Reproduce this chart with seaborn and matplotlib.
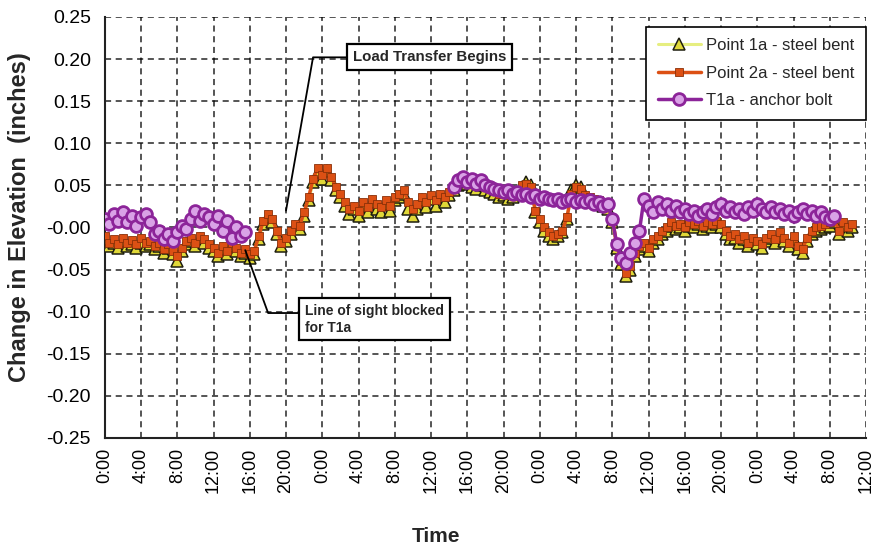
import numpy as np
import matplotlib
matplotlib.use("Agg")
import matplotlib.pyplot as plt
import seaborn as sns

# ---------------- data ----------------
tick_hours = list(range(0, 85, 4))
tick_labels = ["0:00", "4:00", "8:00", "12:00", "16:00", "20:00"] * 3 + ["0:00", "4:00", "8:00", "12:00"]

hours_pt = np.arange(0, 83, 0.5)          # 0 .. 82.5 h
point_1a = [
    -0.014, -0.022, -0.018, -0.024, -0.016, -0.022, -0.020, -0.024, -0.018, -0.022, -0.020,
    -0.026, -0.022, -0.030, -0.024, -0.032, -0.040, -0.028,
    -0.020, -0.016, -0.022, -0.014, -0.018, -0.024, -0.028,
    -0.034, -0.026, -0.032, -0.022,
    -0.028, -0.034, -0.030, -0.036, -0.032, -0.014,
    0.004, 0.012, 0.006, -0.008,
    -0.022, -0.016,
    -0.008, 0.000, -0.002, 0.014, 0.032, 0.054, 0.066,
    0.058, 0.067, 0.056, 0.044, 0.036, 0.026, 0.016,
    0.022, 0.014, 0.026, 0.018, 0.030, 0.022, 0.018, 0.028, 0.020, 0.032, 0.036,
    0.040, 0.022, 0.014, 0.022, 0.032, 0.024, 0.034, 0.026, 0.036, 0.030, 0.038,
    0.044, 0.050, 0.056, 0.052, 0.048, 0.046, 0.050, 0.044, 0.042, 0.040, 0.036,
    0.038, 0.034, 0.036, 0.040, 0.048,
    0.054, 0.050, 0.018, 0.006, -0.004, -0.010, -0.014, -0.010, -0.006, 0.010, 0.044,
    0.050, 0.048, 0.036,
    0.032, 0.030, 0.028, 0.026, 0.022, 0.006,
    -0.024, -0.044, -0.058, -0.050, -0.034, -0.026,
    -0.022, -0.028, -0.018, -0.014, -0.008, -0.004,
    0.002, -0.002, 0.000, -0.004, 0.002, 0.000, 0.004, -0.002, 0.002, 0.000, 0.004, 0.000,
    -0.008, -0.014, -0.012, -0.018, -0.014, -0.022, -0.016, -0.020, -0.024, -0.016, -0.012,
    -0.018, -0.010, -0.016, -0.022, -0.014,
    -0.026, -0.030, -0.016, -0.008, -0.004, -0.002, 0.000, 0.002,
    0.006, -0.008, 0.002, -0.004, 0.000,
]
point_2a = [
    -0.010, -0.018, -0.014, -0.020, -0.012, -0.018, -0.015, -0.020, -0.013, -0.018, -0.016,
    -0.022, -0.018, -0.026, -0.020, -0.028, -0.034, -0.024,
    -0.016, -0.012, -0.018, -0.010, -0.014, -0.020, -0.024,
    -0.030, -0.022, -0.028, -0.018,
    -0.024, -0.030, -0.026, -0.032, -0.028, -0.010,
    0.008, 0.016, 0.010, -0.004,
    -0.018, -0.012,
    -0.004, 0.004, 0.002, 0.018, 0.036, 0.058, 0.070,
    0.062, 0.071, 0.060, 0.048, 0.040, 0.030, 0.022,
    0.026, 0.020, 0.030, 0.024, 0.034, 0.028, 0.024, 0.032, 0.026, 0.036, 0.040,
    0.044, 0.030, 0.022, 0.028, 0.036, 0.030, 0.038, 0.032, 0.040, 0.036, 0.042,
    0.048, 0.054, 0.058, 0.056, 0.052, 0.050, 0.054, 0.048, 0.046, 0.044, 0.040,
    0.042, 0.038, 0.040, 0.044, 0.050,
    0.052, 0.048, 0.020, 0.010, 0.000, -0.006, -0.010, -0.008, -0.004, 0.012, 0.040,
    0.048, 0.046, 0.038,
    0.036, 0.034, 0.032, 0.030, 0.026, 0.010,
    -0.020, -0.040, -0.054, -0.046, -0.030, -0.022,
    -0.018, -0.024, -0.014, -0.010, -0.004, 0.000,
    0.006, 0.002, 0.004, 0.000, 0.006, 0.004, 0.008, 0.002, 0.006, 0.004, 0.008, 0.004,
    -0.004, -0.010, -0.008, -0.014, -0.010, -0.018, -0.012, -0.016, -0.020, -0.012, -0.008,
    -0.014, -0.006, -0.012, -0.018, -0.010,
    -0.022, -0.026, -0.012, -0.004, 0.000, 0.002, 0.004, 0.006,
    0.010, -0.004, 0.006, 0.000, 0.004,
]

hours_t1a_a = np.arange(0, 16, 0.5)       # 0 .. 15.5 h
t1a_a = [
    0.010, 0.004, 0.016, 0.008, 0.018, 0.006, 0.014, 0.002, 0.012, 0.016, 0.006,
    -0.008, -0.004, -0.014, -0.008, -0.016, -0.006, 0.002,
    -0.002, 0.010, 0.020, 0.008, 0.016, 0.012, 0.004, 0.014, -0.004, 0.008, -0.012,
    0.000, -0.010, -0.006,
]
hours_t1a_b = np.arange(38.5, 81, 0.5)    # 38.5 .. 80.5 h
t1a_b = [
    0.048, 0.056, 0.060, 0.054, 0.058, 0.052, 0.056, 0.050, 0.048, 0.046,
    0.044, 0.042, 0.044, 0.040, 0.042, 0.038, 0.040, 0.036, 0.038, 0.034,
    0.036, 0.034, 0.032, 0.034, 0.030, 0.032, 0.034, 0.030, 0.032, 0.030,
    0.032, 0.028, 0.030, 0.026, 0.028, 0.010, -0.020, -0.036, -0.042, -0.030,
    -0.018, -0.004, 0.034, 0.026, 0.018, 0.030, 0.022, 0.028, 0.020, 0.026,
    0.018, 0.022, 0.016, 0.020, 0.014, 0.018, 0.022, 0.016, 0.024, 0.028,
    0.020, 0.024, 0.018, 0.022, 0.016, 0.024, 0.020, 0.028, 0.022, 0.018,
    0.024, 0.018, 0.022, 0.016, 0.020, 0.014, 0.018, 0.022, 0.016, 0.020,
    0.014, 0.018, 0.012, 0.010, 0.014,
]

# ---------------- style ----------------
sns.set_style("white")
plt.rcParams["font.family"] = ["Liberation Sans", "DejaVu Sans"]

fig = plt.figure(figsize=(8.73, 5.46), dpi=100)
ax = fig.add_axes([0.120, 0.198, 0.872, 0.771])

c1_line, c1_face = "#e6ee80", "#e0d838"
c2 = "#dc5014"
c3_line, c3_face = "#8c2499", "#d9a2e6"

sns.lineplot(x=hours_pt, y=point_1a, ax=ax, sort=False, color=c1_line, lw=2.2,
             marker="^", markersize=8, markerfacecolor=c1_face,
             markeredgecolor="#1e1e10", markeredgewidth=1.1,
             label="Point 1a - steel bent", zorder=3)
sns.lineplot(x=hours_pt, y=point_2a, ax=ax, sort=False, color=c2, lw=2.5,
             marker="s", markersize=5.5, markerfacecolor=c2,
             markeredgecolor="#8a3008", markeredgewidth=0.6,
             label="Point 2a - steel bent", zorder=4)
sns.lineplot(x=hours_t1a_a, y=t1a_a, ax=ax, sort=False, color=c3_line, lw=2.5,
             marker="o", markersize=8.5, markerfacecolor=c3_face,
             markeredgecolor=c3_line, markeredgewidth=2.0,
             label="T1a - anchor bolt", zorder=5)
sns.lineplot(x=hours_t1a_b, y=t1a_b, ax=ax, sort=False, color=c3_line, lw=2.5,
             marker="o", markersize=8.5, markerfacecolor=c3_face,
             markeredgecolor=c3_line, markeredgewidth=2.0,
             label="_t1a_b", zorder=5)

ax.set_xlim(0, 84)
ax.set_ylim(-0.25, 0.25)
ax.set_xticks(tick_hours)
ax.set_xticklabels(tick_labels, rotation=90, fontsize=13)
ax.set_yticks(np.arange(-0.25, 0.2501, 0.05))
ax.set_yticklabels([f"{v:.2f}" for v in np.arange(-0.25, 0.2501, 0.05)], fontsize=14)
ax.tick_params(axis="x", direction="inout", length=8, width=1, pad=3, colors="black")
ax.tick_params(axis="y", direction="out", length=5, width=1, pad=5, colors="black")

ax.grid(True, color="black", linestyle=(0, (4, 3)), linewidth=1.1, alpha=0.85)
ax.set_axisbelow(True)
for s in ["top", "right"]:
    ax.spines[s].set_visible(False)
for s in ["left", "bottom"]:
    ax.spines[s].set_color("#222222")
    ax.spines[s].set_linewidth(1.5)

ax.set_ylabel("Change in Elevation  (inches)", fontsize=17, fontweight="bold")
ax.yaxis.set_label_coords(-0.097, 0.525)
ax.set_xlabel("Time", fontsize=15, fontweight="bold")
ax.xaxis.set_label_coords(0.435, -0.211)

handles, labels = ax.get_legend_handles_labels()
leg = ax.legend(handles, labels, loc="upper right", bbox_to_anchor=(1.0, 0.977),
                borderaxespad=0.0, fontsize=12, frameon=True, fancybox=False,
                edgecolor="black", framealpha=1, handlelength=2.6, borderpad=0.7,
                labelspacing=0.75, handletextpad=0.3)
leg.get_frame().set_linewidth(1.2)
leg.set_zorder(10)

ax.annotate("Load Transfer Begins", xy=(20.0, 0.02), xytext=(27.4, 0.202),
            ha="left", va="center", fontsize=10.8, fontweight="bold",
            bbox=dict(boxstyle="square,pad=0.4", fc="white", ec="black", lw=1.6),
            arrowprops=dict(arrowstyle="-", color="black", lw=1.3,
                            connectionstyle="angle,angleA=0,angleB=80,rad=0",
                            relpos=(0, 0.5), shrinkA=0, shrinkB=0),
            zorder=9)
ax.annotate("Line of sight blocked\nfor T1a", xy=(15.5, -0.027), xytext=(22.1, -0.109),
            ha="left", va="center", fontsize=10, fontweight="bold", linespacing=1.25,
            bbox=dict(boxstyle="square,pad=0.4", fc="white", ec="black", lw=1.6),
            arrowprops=dict(arrowstyle="-", color="black", lw=1.3,
                            connectionstyle="angle,angleA=0,angleB=-70,rad=0",
                            relpos=(0, 0.7), shrinkA=0, shrinkB=0),
            zorder=9)

fig.savefig("out.png", dpi=100)
